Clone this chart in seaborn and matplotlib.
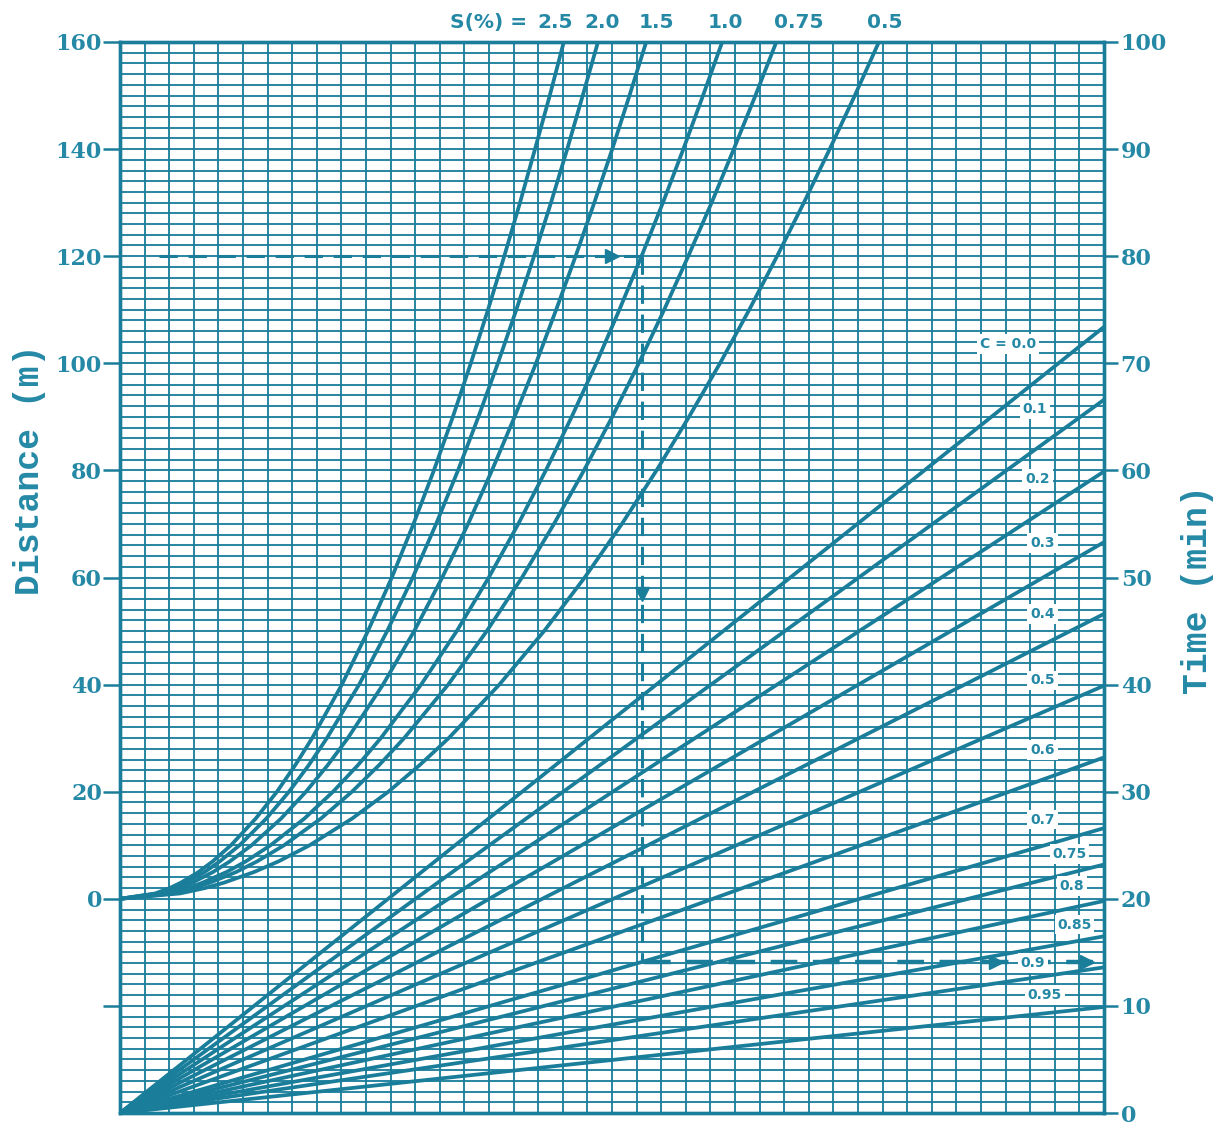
import numpy as np
import pandas as pd
import matplotlib
matplotlib.use("Agg")
import matplotlib.pyplot as plt
import seaborn as sns

# ---------------- data ----------------
# S curves: horizontal position (chart units, 40 columns wide) where each
# slope curve reaches the listed distances (m)
s_labels = ["2.5", "2.0", "1.5", "1.0", "0.75", "0.5"]
s_distance = [0, 1, 2, 3, 5, 7, 10, 15, 20, 25, 30, 40, 50, 60, 70, 80,
              90, 100, 110, 120, 130, 140, 150, 160]
s_pos_25 = [0, 1.43, 2.02, 2.47, 3.19, 3.77, 4.51, 5.52, 6.38, 7.13, 7.81, 9.02,
            10.08, 11.05, 11.93, 12.76, 13.53, 14.26, 14.96, 15.62, 16.26, 16.87, 17.47, 18.04]
s_pos_20 = [0, 1.54, 2.17, 2.66, 3.44, 4.06, 4.86, 5.95, 6.87, 7.68, 8.41, 9.72,
            10.86, 11.90, 12.85, 13.74, 14.57, 15.36, 16.11, 16.83, 17.52, 18.18, 18.81, 19.43]
s_pos_15 = [0, 1.69, 2.39, 2.93, 3.78, 4.47, 5.35, 6.55, 7.56, 8.45, 9.26, 10.69,
            11.96, 13.10, 14.15, 15.12, 16.04, 16.91, 17.73, 18.52, 19.28, 20.01, 20.71, 21.39]
s_pos_10 = [0, 1.94, 2.74, 3.35, 4.33, 5.12, 6.12, 7.50, 8.66, 9.68, 10.60, 12.24,
            13.69, 14.99, 16.19, 17.31, 18.36, 19.36, 20.30, 21.20, 22.07, 22.90, 23.70, 24.48]
s_pos_075 = [0, 2.11, 2.98, 3.65, 4.72, 5.58, 6.67, 8.17, 9.43, 10.54, 11.55, 13.34,
             14.91, 16.34, 17.64, 18.86, 20.01, 21.09, 22.12, 23.10, 24.05, 24.95, 25.83, 26.68]
s_pos_05 = [0, 2.44, 3.45, 4.22, 5.45, 6.45, 7.71, 9.44, 10.91, 12.19, 13.36, 15.42,
            17.24, 18.89, 20.40, 21.81, 23.13, 24.39, 25.58, 26.71, 27.80, 28.85, 29.87, 30.85]
s_positions = [s_pos_25, s_pos_20, s_pos_15, s_pos_10, s_pos_075, s_pos_05]

# C lines: straight lines from the origin; time (min) reached at the right edge
c_labels = ["C = 0.0", "0.1", "0.2", "0.3", "0.4", "0.5", "0.6", "0.7",
            "0.75", "0.8", "0.85", "0.9", "0.95"]
c_time_at_edge = [73.4, 66.6, 59.9, 53.3, 46.6, 39.9, 33.2, 26.6,
                  23.2, 19.8, 16.5, 13.6, 9.9]
c_start = [0, 0]           # (position, time) at the origin
edge_pos = 40              # right edge position

# worked example (dashed path)
ex_distance = 120
ex_pos_start = 1.6
ex_pos = 21.2
ex_time = 14.1

left_ticks = [-20, 0, 20, 40, 60, 80, 100, 120, 140, 160]
left_ticklabels = ["", "0", "20", "40", "60", "80", "100", "120", "140", "160"]
right_ticks = [0, 10, 20, 30, 40, 50, 60, 70, 80, 90, 100]

# ---------------- layout ----------------
col = "#1a7e9b"
txtcol = "#2589a6"

sns.set_theme(style="white")
plt.rcParams["font.family"] = ["DejaVu Serif", "DejaVu Sans"]

W, H = 1223, 1127
fig = plt.figure(figsize=(W / 100, H / 100), dpi=100)
ax = fig.add_axes([120 / W, 14 / H, 984 / W, 1071 / H])
ax2 = ax.twinx()

ax.set_xlim(0, 40)
ax.set_ylim(-40, 160)
ax2.set_ylim(0, 100)

# grid
ax.set_xticks(np.arange(0, 41, 1))
ax.set_yticks(left_ticks)
ax.set_yticklabels(left_ticklabels)
ax.set_yticks(np.arange(-40, 161, 2), minor=True)
ax.grid(True, which="both", color=col, lw=1.45, alpha=0.92)
ax.set_axisbelow(True)
ax.tick_params(axis="x", which="both", length=0, labelbottom=False)
ax.tick_params(axis="y", which="minor", length=0)
ax.tick_params(axis="y", which="major", length=12, width=1.8, color=col,
               labelcolor=txtcol, labelsize=16, pad=1)

ax2.set_yticks(right_ticks)
ax2.grid(False)
ax2.tick_params(axis="y", which="major", length=10, width=1.8, color=col,
                labelcolor=txtcol, labelsize=16, pad=2)
for lbl in ax.get_yticklabels() + ax2.get_yticklabels():
    lbl.set_fontweight("semibold")

for a in (ax, ax2):
    for sp in a.spines.values():
        sp.set_color(col)
        sp.set_linewidth(2.4)

# S curves
rows = []
for lab, pos in zip(s_labels, s_positions):
    for p, d in zip(pos, s_distance):
        rows.append({"S": lab, "pos": p, "dist": d})
df_s = pd.DataFrame(rows)
sns.lineplot(data=df_s, x="pos", y="dist", units="S", estimator=None,
             sort=False, color=col, lw=2.7, ax=ax, legend=False,
             solid_joinstyle="round")

# C lines
rows = []
for lab, t in zip(c_labels, c_time_at_edge):
    rows.append({"C": lab, "pos": c_start[0], "time": c_start[1]})
    rows.append({"C": lab, "pos": edge_pos, "time": t})
df_c = pd.DataFrame(rows)
sns.lineplot(data=df_c, x="pos", y="time", units="C", estimator=None,
             sort=False, color=col, lw=2.7, ax=ax2, legend=False)

ax.set_xlabel("")
ax.set_ylabel("")
ax2.set_xlabel("")
ax2.set_ylabel("")

# worked example
dash = (0, (6, 3.5))
ax.plot([ex_pos_start, ex_pos], [ex_distance, ex_distance], color=col,
        lw=2.2, ls=dash)
ex_dist_low = 2 * ex_time - 40
ax.plot([ex_pos, ex_pos], [ex_distance, ex_dist_low], color=col, lw=2.2, ls=dash)
ax2.plot([ex_pos + 0.1, 40], [ex_time, ex_time], color=col, lw=3.2, ls=dash)
ax.plot([20.0], [ex_distance], marker=">", ms=10, color=col, clip_on=False)
ax.plot([ex_pos], [57], marker="v", ms=10, color=col)
ax2.plot([35.6, 39.3], [ex_time, ex_time], ls="none", marker=">", ms=10, color=col)

# C labels (white boxes)
c_label_pos = [(36.1, 71.8), (37.2, 65.7), (37.3, 59.2), (37.5, 53.2),
               (37.5, 46.6), (37.5, 40.4), (37.5, 33.9), (37.5, 27.4),
               (38.6, 24.2), (38.7, 21.2), (38.8, 17.6), (37.1, 14.0),
               (37.6, 11.0)]
for lab, (px, py) in zip(c_labels, c_label_pos):
    ax2.text(px, py, lab, ha="center", va="center", fontsize=10,
             fontweight="bold", family="DejaVu Sans", color=txtcol, zorder=5,
             bbox=dict(boxstyle="square,pad=0.2", fc="white", ec="none"))

# S labels at top
s_lab_y = 163.7
ax.text(15.0, s_lab_y, "S(%) =", ha="center", va="center", fontsize=14.5,
        fontweight="bold", family="DejaVu Sans", color=txtcol, clip_on=False)
s_label_x = [17.7, 19.6, 21.8, 24.6, 27.6, 31.1]
for lab, px in zip(s_labels, s_label_x):
    ax.text(px, s_lab_y, lab, ha="center", va="center", fontsize=14.5,
            fontweight="bold", family="DejaVu Sans", color=txtcol, clip_on=False)

# axis titles
fig.text(30 / W, 1 - 470 / H, "Distance (m)", rotation=90, ha="center",
         va="center", fontsize=25, family="Liberation Mono", fontweight="bold",
         color=txtcol)
fig.text(1197 / W, 1 - 590 / H, "Time (min)", rotation=90, ha="center",
         va="center", fontsize=25, family="Liberation Mono", fontweight="bold",
         color=txtcol)

fig.savefig("out.png", dpi=100, facecolor="white")
